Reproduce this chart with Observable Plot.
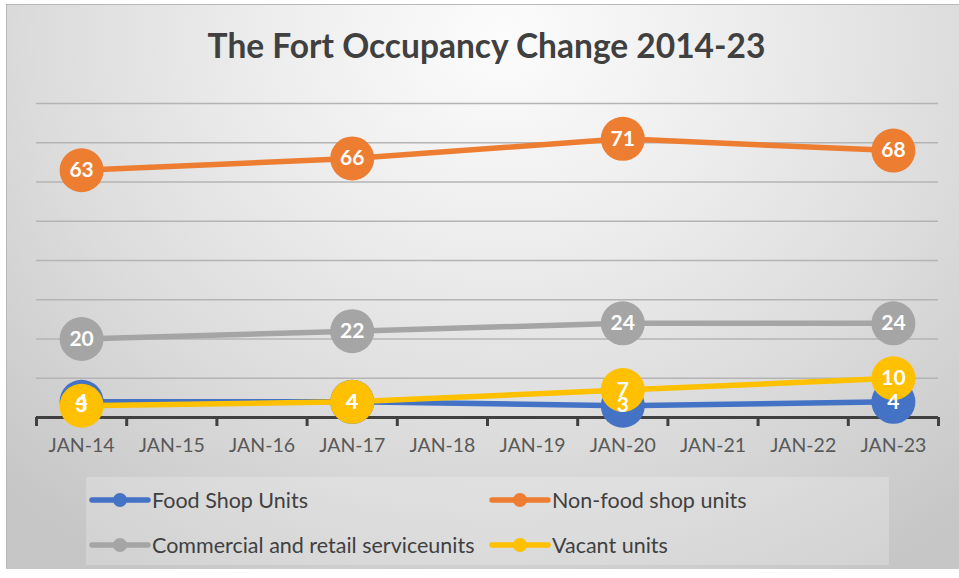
<!DOCTYPE html>
<html>
<head>
<meta charset="utf-8">
<script src="https://cdn.jsdelivr.net/npm/d3@7"></script>
<script src="https://cdn.jsdelivr.net/npm/@observablehq/plot@0.6"></script>
<style>
  html, body { margin: 0; padding: 0; background: #ffffff; }
  body { width: 959px; height: 578px; position: relative; overflow: hidden; font-family: Lato, "Open Sans", sans-serif; }
  #frame { position: absolute; left: 6px; top: 4px; width: 953px; height: 564px;
    border-left: 1px solid #b8b8b8; border-top: 1px solid #b8b8b8;
    background: radial-gradient(ellipse 75% 110% at 52% 6%, #fcfcfc 0%, #ececec 35%, #dcdcdc 65%, #c6c6c6 100%); }
  #title { position: absolute; left: 0; width: 973px; top: 25px; text-align: center; font-weight: 700; font-size: 33.5px; color: #404040; }
  #chart { position: absolute; left: 0; top: 0; }
  #legend { position: absolute; left: 86px; top: 477px; width: 803px; height: 88px; background: rgba(255,255,255,0.22); }
  .item { position: absolute; display: flex; align-items: center; height: 30px; font-size: 21.5px; color: #404040; white-space: nowrap; }
  .item svg { margin-right: 1px; }
</style>
</head>
<body>
<div id="frame"></div>
<div id="title">The Fort Occupancy Change 2014-23</div>
<div id="chart"></div>
<div id="legend"></div>
<script>
const categories = ["JAN-14","JAN-15","JAN-16","JAN-17","JAN-18","JAN-19","JAN-20","JAN-21","JAN-22","JAN-23"];
const seriesNames = ["Food Shop Units","Non-food shop units","Commercial and retail serviceunits","Vacant units"];
const seriesColors = ["#4472C4","#ED7D31","#A5A5A5","#FFC000"];
const dataCategories = ["JAN-14","JAN-17","JAN-20","JAN-23"];
const foodShop = [4, 4, 3, 4];
const nonFood = [63, 66, 71, 68];
const commercial = [20, 22, 24, 24];
const vacant = [3, 4, 7, 10];
const yTicks = [0,10,20,30,40,50,60,70,80];

const seriesValues = [foodShop, nonFood, commercial, vacant];
const rows = [];
seriesValues.forEach((vals, s) => {
  vals.forEach((v, i) => rows.push({series: seriesNames[s], s, idx: categories.indexOf(dataCategories[i]), value: v}));
});
const boundaries = d3.range(categories.length + 1).map(i => i - 0.5);
const catIdx = categories.map((c, i) => i);

const marks = [
  Plot.ruleY(yTicks.filter(d => d > 0), {stroke: "#b4b4b4", strokeWidth: 1.5}),
  Plot.ruleY([0], {stroke: "#404040", strokeWidth: 3}),
  Plot.ruleX(boundaries, {x: d => d, y1: 0, y2: 0, insetBottom: -9, stroke: "#404040", strokeWidth: 3}),
  Plot.axisX({ticks: catIdx, tickFormat: i => categories[i], tickSize: 0, tickPadding: 21, fontSize: 19.5, color: "#595959", fontFamily: "Lato", label: null}),
];
seriesNames.forEach((name, s) => {
  const d = rows.filter(r => r.s === s);
  marks.push(Plot.line(d, {x: "idx", y: "value", stroke: seriesColors[s], strokeWidth: 5.5, strokeLinecap: "round"}));
  marks.push(Plot.dot(d, {x: "idx", y: "value", r: 22, fill: seriesColors[s], stroke: "none"}));
});
marks.push(Plot.text(rows, {x: "idx", y: "value", text: d => String(d.value), fill: "white", fontWeight: "bold", fontSize: 21, fontFamily: "Lato"}));

const chart = Plot.plot({
  width: 959,
  height: 470,
  marginTop: 103,
  marginBottom: 53,
  marginLeft: 36,
  marginRight: 21,
  style: {background: "transparent", overflow: "visible"},
  x: {type: "linear", domain: [-0.5, categories.length - 0.5], axis: null},
  y: {domain: [0, 80], axis: null},
  marks
});
document.getElementById("chart").appendChild(chart);

const legend = document.getElementById("legend");
const pos = [[3, 8], [403, 8], [3, 53], [403, 53]];
seriesNames.forEach((name, s) => {
  const div = document.createElement("div");
  div.className = "item";
  div.style.left = pos[s][0] + "px";
  div.style.top = pos[s][1] + "px";
  div.innerHTML = `<svg width="62" height="16"><line x1="3" y1="8" x2="59" y2="8" stroke="${seriesColors[s]}" stroke-width="5.5" stroke-linecap="round"/><circle cx="31" cy="8" r="7" fill="${seriesColors[s]}"/></svg><span>${name}</span>`;
  legend.appendChild(div);
});
</script>
</body>
</html>
